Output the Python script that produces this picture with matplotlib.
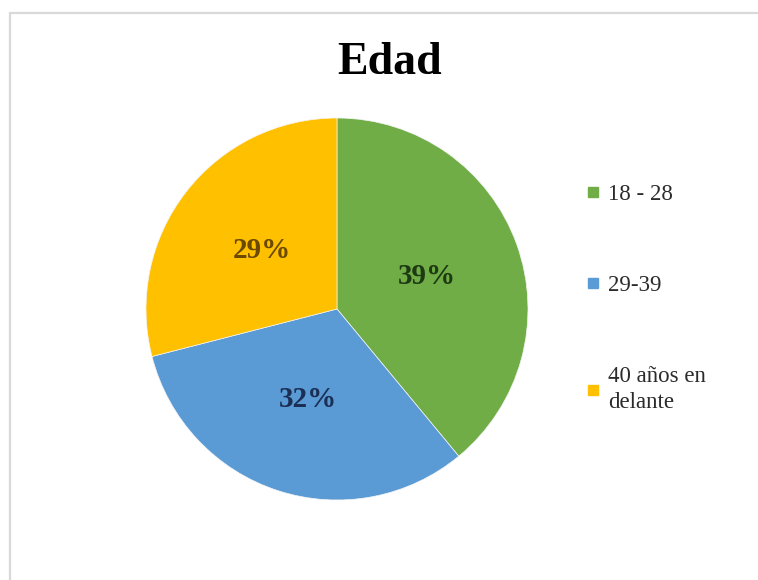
import matplotlib
matplotlib.use("Agg")
import matplotlib.pyplot as plt
from matplotlib.lines import Line2D
from matplotlib.patches import Rectangle

title = "Edad"
categories = ["18 - 28", "29-39", "40 años en\ndelante"]
values = [39, 32, 29]
colors = ["#70AD47", "#5B9BD5", "#FFC000"]
label_colors = ["#1E3A12", "#1B2F55", "#6B4A00"]

plt.rcParams['font.family'] = ['Liberation Serif', 'DejaVu Serif']

W, H = 758, 580
fig = plt.figure(figsize=(W / 100, H / 100), dpi=100)
fig.patch.set_facecolor("white")

# outer light frame
fig.patches.append(Rectangle((10 / W, -0.1), 1.2, (H - 13) / H + 0.1,
                             transform=fig.transFigure, fill=False,
                             edgecolor="#d9d9d9", linewidth=1.6))

cx, cy, r = 337, 309, 191
ax = fig.add_axes([(cx - r) / W, (H - cy - r) / H, 2 * r / W, 2 * r / H])
wedges, texts, autotexts = ax.pie(
    values, colors=colors, startangle=90, counterclock=False,
    autopct=lambda p: f"{p:.0f}%", pctdistance=0.5,
    wedgeprops=dict(linewidth=0.5, edgecolor="#f4f4f4"),
    textprops=dict(fontsize=21, fontweight="bold"))
for t, c in zip(autotexts, label_colors):
    t.set_color(c)
ax.set_xlim(-1, 1)
ax.set_ylim(-1, 1)
ax.set_aspect("equal")

fig.text(390 / W, 1 - 63 / H, title, ha="center", va="center",
         fontsize=33, fontweight="bold", color="black")

handles = [Line2D([], [], marker="s", linestyle="none", markersize=7,
                  markerfacecolor=c, markeredgecolor=c) for c in colors]
leg = fig.legend(handles, categories, loc="upper left",
                 bbox_to_anchor=(575 / W, 1 - 173 / H), frameon=False,
                 fontsize=16.5, labelspacing=3.05, handlelength=0.6,
                 handletextpad=0.35, borderpad=0, labelcolor="#2b2b2b")
for t in leg.get_texts():
    t.set_linespacing(1.3)

fig.savefig("out.png", dpi=100, facecolor="white")
